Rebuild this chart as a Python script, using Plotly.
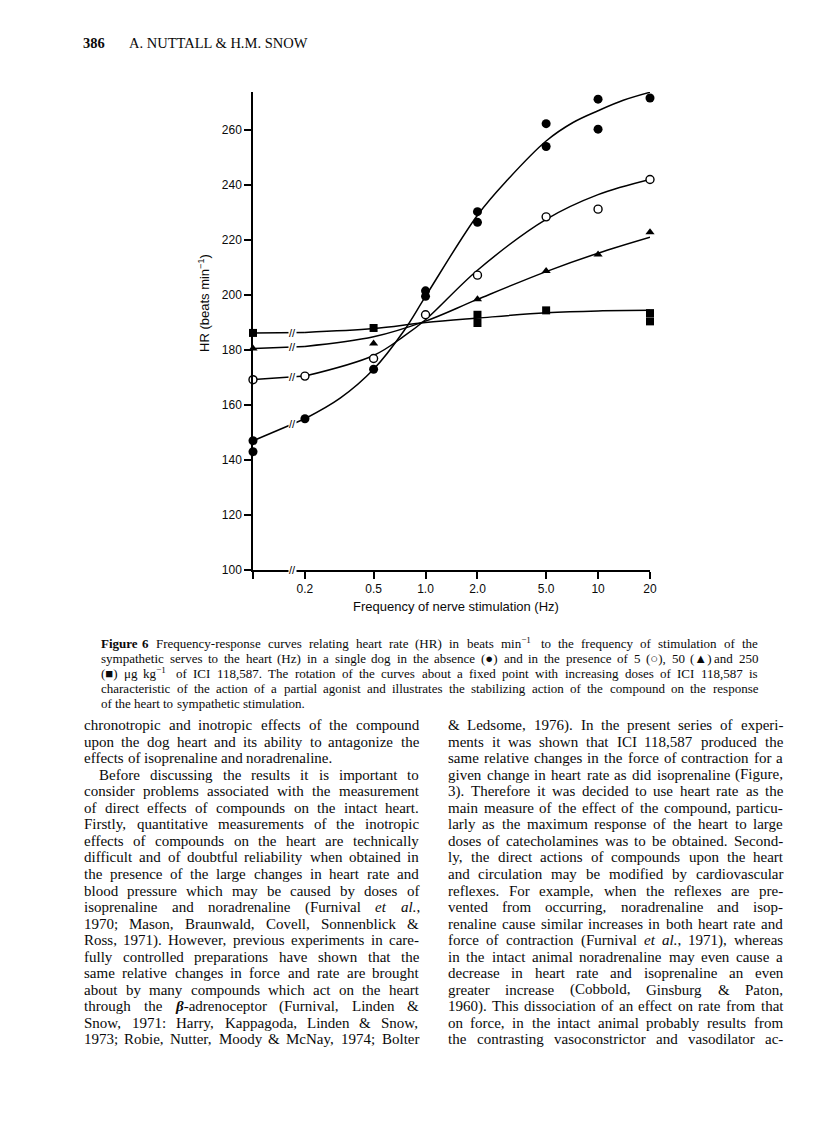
import re
import math
import plotly.graph_objects as go

# ---- data (0 Hz control value is drawn at the axis origin, 0.1) ----
ctrl_x = [0.1, 0.1, 0.2, 0.5, 1, 1, 2, 2, 5, 5, 10, 10, 20]
ctrl_y = [147, 143, 155, 173, 201.5, 199.5, 230.3, 226.4, 262.3, 254, 271.2, 260.3, 271.6]
ctrl_fit_x = [0.2, 0.32, 0.5, 0.75, 1.0, 2.0, 3.0, 5.0, 7.2, 10, 14, 20]
ctrl_fit_y = [155, 162.5, 173, 187, 199.5, 229, 242, 256, 262.8, 267, 270.8, 273.7]

d5_x = [0.1, 0.2, 0.5, 1, 2, 5, 10, 20]
d5_y = [169.2, 170.5, 176.9, 192.8, 207.2, 228.4, 231.2, 242]
d5_fit_x = [0.2, 0.5, 0.75, 1.0, 2.0, 5.0, 10, 20]
d5_fit_y = [170.5, 178, 185, 191, 209, 227.5, 236.5, 242]

d50_x = [0.1, 0.5, 2, 5, 10, 20]
d50_y = [180.5, 182.4, 198.4, 208.7, 214.7, 222.8]
d50_fit_x = [0.2, 0.5, 1.0, 2.0, 5.0, 10, 20]
d50_fit_y = [181.3, 184.8, 190.5, 198.4, 208.5, 215.2, 221]

d250_x = [0.1, 0.5, 2, 2, 5, 20, 20]
d250_y = [186.2, 188, 192.8, 189.8, 194.4, 193.4, 190.4]
d250_fit_x = [0.2, 0.5, 1.0, 2.0, 5.0, 10, 20]
d250_fit_y = [186.4, 187.8, 190, 191.6, 193.5, 194.2, 194.4]

x_ticks = [0.2, 0.5, 1, 2, 5, 10, 20]
x_ticktext = ["0.2", "0.5", "1.0", "2.0", "5.0", "10", "20"]
y_ticks = [100, 120, 140, 160, 180, 200, 220, 240, 260]
BREAK_X = 0.17

series = [
    (ctrl_x, ctrl_y, ctrl_fit_x, ctrl_fit_y, dict(symbol="circle", size=9, color="black")),
    (d5_x, d5_y, d5_fit_x, d5_fit_y,
     dict(symbol="circle", size=8, color="white", line=dict(color="black", width=1.4))),
    (d50_x, d50_y, d50_fit_x, d50_fit_y, dict(symbol="triangle-up", size=8, color="black")),
    (d250_x, d250_y, d250_fit_x, d250_fit_y, dict(symbol="square", size=8, color="black")),
]

header = ["386", "A. NUTTALL & H.M. SNOW"]
caption = [
    "<b>Figure</b> <b>6</b>  Frequency-response curves relating heart rate (HR) in beats min<sup>−1</sup> to the frequency of stimulation of the",
    "sympathetic serves to the heart (Hz) in a single dog in the absence (●) and in the presence of 5 (○), 50 (▲) and 250",
    "(■) μg kg<sup>−1</sup> of ICI 118,587. The rotation of the curves about a fixed point with increasing doses of ICI 118,587 is",
    "characteristic of the action of a partial agonist and illustrates the stabilizing action of the compound on the response",
    "of the heart to sympathetic stimulation.",
]
left_col = [
    "chronotropic and inotropic effects of the compound",
    "upon the dog heart and its ability to antagonize the",
    "effects of isoprenaline and noradrenaline.",
    "Before discussing the results it is important to",
    "consider problems associated with the measurement",
    "of direct effects of compounds on the intact heart.",
    "Firstly, quantitative measurements of the inotropic",
    "effects of compounds on the heart are technically",
    "difficult and of doubtful reliability when obtained in",
    "the presence of the large changes in heart rate and",
    "blood pressure which may be caused by doses of",
    "isoprenaline and noradrenaline (Furnival <i>et</i> <i>al.</i>,",
    "1970; Mason, Braunwald, Covell, Sonnenblick &",
    "Ross, 1971). However, previous experiments in care-",
    "fully controlled preparations have shown that the",
    "same relative changes in force and rate are brought",
    "about by many compounds which act on the heart",
    "through the <b><i>β</i></b>-adrenoceptor (Furnival, Linden &",
    "Snow, 1971: Harry, Kappagoda, Linden & Snow,",
    "1973; Robie, Nutter, Moody & McNay, 1974; Bolter",
]
right_col = [
    "& Ledsome, 1976). In the present series of experi-",
    "ments it was shown that ICI 118,587 produced the",
    "same relative changes in the force of contraction for a",
    "given change in heart rate as did isoprenaline (Figure,",
    "3). Therefore it was decided to use heart rate as the",
    "main measure of the effect of the compound, particu-",
    "larly as the maximum response of the heart to large",
    "doses of catecholamines was to be obtained. Second-",
    "ly, the direct actions of compounds upon the heart",
    "and circulation may be modified by cardiovascular",
    "reflexes. For example, when the reflexes are pre-",
    "vented from occurring, noradrenaline and isop-",
    "renaline cause similar increases in both heart rate and",
    "force of contraction (Furnival <i>et</i> <i>al.</i>, 1971), whereas",
    "in the intact animal noradrenaline may even cause a",
    "decrease in heart rate and isoprenaline an even",
    "greater increase (Cobbold, Ginsburg & Paton,",
    "1960). This dissociation of an effect on rate from that",
    "on force, in the intact animal probably results from",
    "the contrasting vasoconstrictor and vasodilator ac-",
]
left_ragged = {2}      # paragraph ends (not justified)
left_indent = {3}

# ---- page geometry (page pixels; the html body adds an 8 px margin) ----
W_PX, H_PX, BODY = 816, 1133, 8
PL, PR, PT, PB = 253, 650, 92, 570
INK = "#0a0a0a"


def px(x):
    return (x - PL) / (PR - PL)


def py(y):
    return (PB - y) / (PB - PT)


# Times / Liberation Serif advance widths (per 1000 em)
TW = dict(zip("abcdefghijklmnopqrstuvwxyz",
              [444, 500, 444, 500, 444, 333, 500, 500, 278, 278, 500, 278, 778,
               500, 500, 500, 500, 333, 389, 278, 500, 500, 722, 500, 500, 444]))
TW.update(dict(zip("ABCDEFGHIJKLMNOPQRSTUVWXYZ",
                   [722, 667, 667, 722, 611, 556, 722, 722, 333, 389, 722, 611, 889,
                    722, 722, 556, 722, 667, 556, 611, 722, 722, 944, 722, 722, 611])))
TW.update({c: 500 for c in "0123456789"})
TW.update({" ": 250, ",": 250, ".": 250, ";": 278, ":": 278, "(": 333, ")": 333,
           "-": 333, "&": 778, "−": 564, "●": 600, "○": 600, "▲": 700, "■": 600,
           "μ": 500, "β": 500})


def tw(s, size):
    s = re.sub(r"<sup>.*?</sup>", "xx", s)
    s = re.sub(r"<[^>]+>", "", s)
    return sum(TW.get(c, 500) for c in s) * size / 1000


annotations = []


def note(x, y, text, size, family="Liberation Serif", xanchor="center", **kw):
    annotations.append(dict(x=px(x), y=py(y), xref="paper", yref="paper", text=text,
                            showarrow=False, xanchor=xanchor, yanchor="middle", borderpad=0,
                            font=dict(family=family, size=size, color=INK), **kw))


def put_line(line, x0, x1, y, size, justify=True):
    words = [w for w in line.split(" ") if w != ""]
    widths = [tw(w, size) for w in words]
    if justify and len(words) > 1:
        gap = (x1 - x0 - sum(widths)) / (len(words) - 1)
    else:
        gap = 0.25 * size
    x = x0
    for w, wd in zip(words, widths):
        note(x, y, w, size, xanchor="left")
        x += wd + gap


fig = go.Figure()
for xs, ys, fx, fy, mk in series:
    # straight segment across the axis break, then the fitted curve
    fig.add_trace(go.Scatter(x=[xs[0], fx[0]], y=[ys[0], fy[0]], mode="lines",
                             line=dict(color="black", width=1.5), hoverinfo="skip"))
    fig.add_trace(go.Scatter(x=fx, y=fy, mode="lines",
                             line=dict(color="black", width=1.5, shape="spline"),
                             hoverinfo="skip"))
    fig.add_trace(go.Scatter(x=xs, y=ys, mode="markers", marker=mk, cliponaxis=False))
    # break mark on the straight segment
    t = (math.log10(BREAK_X) - math.log10(xs[0])) / (math.log10(fx[0]) - math.log10(xs[0]))
    by = ys[0] + t * (fy[0] - ys[0])
    annotations.append(dict(x=math.log10(BREAK_X), y=by, xref="x", yref="y", text="//",
                            showarrow=False, bgcolor="white", borderpad=0,
                            font=dict(family="Liberation Sans", size=11, color="black")))

annotations.append(dict(x=math.log10(BREAK_X), y=100, xref="x", yref="y", text="//",
                        showarrow=False, bgcolor="white", borderpad=0,
                        font=dict(family="Liberation Sans", size=11, color="black")))

# axis titles
note(456, 606, "Frequency of nerve stimulation (Hz)", 13, family="Liberation Sans")
note(204, 303, "HR (beats min<sup>−1</sup>)", 13, family="Liberation Sans", textangle=-90)

# running head
note(82, 43, "<b>" + header[0] + "</b>", 14.5, xanchor="left")
note(128, 43, header[1], 14.5, xanchor="left")

# caption
for i, line in enumerate(caption):
    put_line(line, 100, 757, 643 + 15 * i, 13, justify=(i < len(caption) - 1))

# body columns
for i, line in enumerate(left_col):
    x0 = 98 if i in left_indent else 83
    put_line(line, x0, 418, 725 + 16.55 * i, 15, justify=(i not in left_ragged))
for i, line in enumerate(right_col):
    put_line(line, 447, 782, 725 + 16.55 * i, 15)

fig.update_layout(
    width=W_PX - BODY, height=H_PX - BODY,
    margin=dict(l=PL - BODY, r=W_PX - PR, t=PT - BODY, b=H_PX - PB),
    paper_bgcolor="white", plot_bgcolor="white",
    showlegend=False,
    annotations=annotations,
    font=dict(family="Liberation Sans", size=12, color=INK),
)
fig.update_xaxes(type="log", range=[-1, math.log10(20)], tickvals=x_ticks, ticktext=x_ticktext,
                 showline=True, linecolor="black", linewidth=1.5, ticks="outside", ticklen=7,
                 tickwidth=1.5, tickcolor="black", showgrid=False, zeroline=False,
                 tickfont=dict(family="Liberation Sans", size=12),
                 minor=dict(tickvals=[0.1], ticks="outside", ticklen=7, tickwidth=1.5,
                            tickcolor="black", showgrid=False))
fig.update_yaxes(range=[100, 273.8], tickvals=y_ticks, showline=True, linecolor="black",
                 linewidth=1.5, ticks="outside", ticklen=7, tickwidth=1.5, tickcolor="black",
                 showgrid=False, zeroline=False, tickfont=dict(family="Liberation Sans", size=12))

fig.write_html("out.html")
